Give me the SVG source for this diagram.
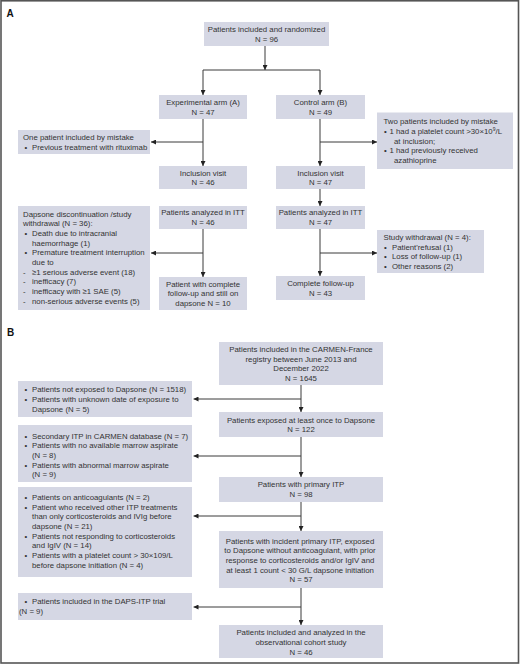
<svg xmlns="http://www.w3.org/2000/svg" width="520" height="665" viewBox="0 0 520 665">
<style>
.box{fill:#d5d7e4;stroke:none}
text{font-family:"Liberation Sans",Arial,sans-serif;font-size:7.8px;fill:#333}
.c{text-anchor:middle}
.lbl{font-size:10px;font-weight:bold;fill:#111}
.ln{fill:none;stroke:#3a3a3a;stroke-width:1}
</style>
<defs>
<marker id="ah" markerWidth="5" markerHeight="5" refX="5" refY="2.5" orient="auto" markerUnits="userSpaceOnUse">
<path d="M0,0 L5,2.5 L0,5 z" fill="#222"/>
</marker>
</defs>
<rect x="1" y="0.8" width="517.5" height="662.2" fill="#fff" stroke="#555" stroke-width="1.6"/>
<text class="lbl" x="6.5" y="17">A</text>
<text class="lbl" x="7" y="335.5">B</text>

<g id="connectors">
<path class="ln" d="M265,46 V70" marker-end="url(#ah)"/>
<path class="ln" d="M203,70 H320"/>
<path class="ln" d="M203,70 V95" marker-end="url(#ah)"/>
<path class="ln" d="M320,70 V95" marker-end="url(#ah)"/>
<path class="ln" d="M203,119 V166" marker-end="url(#ah)"/>
<path class="ln" d="M203,142 H151" marker-end="url(#ah)"/>
<path class="ln" d="M320,119 V166" marker-end="url(#ah)"/>
<path class="ln" d="M320,142 H377" marker-end="url(#ah)"/>
<path class="ln" d="M320,189 V206" marker-end="url(#ah)"/>
<path class="ln" d="M203,229 V277" marker-end="url(#ah)"/>
<path class="ln" d="M203,253 H151" marker-end="url(#ah)"/>
<path class="ln" d="M320,229 V276" marker-end="url(#ah)"/>
<path class="ln" d="M320,253 H377" marker-end="url(#ah)"/>
<path class="ln" d="M301,385 V412" marker-end="url(#ah)"/>
<path class="ln" d="M301,399 H193.5" marker-end="url(#ah)"/>
<path class="ln" d="M301,437 V477" marker-end="url(#ah)"/>
<path class="ln" d="M301,456 H193.5" marker-end="url(#ah)"/>
<path class="ln" d="M301,502 V531" marker-end="url(#ah)"/>
<path class="ln" d="M301,516 H193.5" marker-end="url(#ah)"/>
<path class="ln" d="M301,588 V625" marker-end="url(#ah)"/>
<path class="ln" d="M301,607 H193.5" marker-end="url(#ah)"/>
</g>

<g id="a-randomized">
<rect class="box" x="204" y="22" width="125" height="24"/>
<text class="c" x="266.5" y="32">Patients included and randomized</text>
<text class="c" x="266.5" y="42">N = 96</text>
</g>
<g id="a-experimental">
<rect class="box" x="159" y="95" width="88" height="24"/>
<text class="c" x="203" y="105">Experimental arm (A)</text>
<text class="c" x="203" y="114.5">N = 47</text>
</g>
<g id="a-control">
<rect class="box" x="276" y="95" width="89" height="24"/>
<text class="c" x="320.5" y="105">Control arm (B)</text>
<text class="c" x="320.5" y="114.5">N = 49</text>
</g>
<g id="a-mistake-a">
<rect class="box" x="18" y="130" width="132" height="24"/>
<text x="23" y="140">One patient included by mistake</text>
<text x="24.5" y="149.5">•</text>
<text x="32" y="149.5">Previous treatment with rituximab</text>
</g>
<g id="a-mistake-b">
<rect class="box" x="377" y="112.5" width="136" height="56.5"/>
<text x="383.5" y="124">Two patients included by mistake</text>
<text x="384" y="134">•</text>
<text x="389.5" y="134">1 had a platelet count &gt;30×10<tspan dy="-3" font-size="5">9</tspan><tspan dy="3">/L</tspan></text>
<text x="394" y="143.6">at inclusion;</text>
<text x="384" y="153.3">•</text>
<text x="389.5" y="153.3">1 had previously received</text>
<text x="394" y="163">azathioprine</text>
</g>
<g id="a-inclusion-a">
<rect class="box" x="159" y="166" width="88" height="23"/>
<text class="c" x="203" y="175.5">Inclusion visit</text>
<text class="c" x="203" y="185">N = 46</text>
</g>
<g id="a-inclusion-b">
<rect class="box" x="276" y="166" width="89" height="23"/>
<text class="c" x="320.5" y="175.5">Inclusion visit</text>
<text class="c" x="320.5" y="185">N = 47</text>
</g>
<g id="a-itt-a">
<rect class="box" x="159" y="206" width="88" height="23"/>
<text class="c" x="203" y="215">Patients analyzed in ITT</text>
<text class="c" x="203" y="224.5">N = 46</text>
</g>
<g id="a-itt-b">
<rect class="box" x="276" y="206" width="89" height="23"/>
<text class="c" x="320.5" y="215">Patients analyzed in ITT</text>
<text class="c" x="320.5" y="224.5">N = 47</text>
</g>
<g id="a-discontinuation">
<rect class="box" x="18" y="206" width="132" height="104"/>
<text x="23" y="216.7">Dapsone discontinuation /study</text>
<text x="23" y="226.3">withdrawal (N = 36):</text>
<text x="24.5" y="236">•</text>
<text x="32" y="236">Death due to intracranial</text>
<text x="32" y="245.6">haemorrhage (1)</text>
<text x="24.5" y="255.3">•</text>
<text x="32" y="255.3">Premature treatment interruption</text>
<text x="32" y="264.9">due to</text>
<text x="23" y="274.6">-</text>
<text x="32" y="274.6">≥1 serious adverse event (18)</text>
<text x="23" y="284.2">-</text>
<text x="32" y="284.2">inefficacy (7)</text>
<text x="23" y="293.9">-</text>
<text x="32" y="293.9">inefficacy with ≥1 SAE (5)</text>
<text x="23" y="303.5">-</text>
<text x="32" y="303.5">non-serious adverse events (5)</text>
</g>
<g id="a-complete-a">
<rect class="box" x="159" y="277" width="88" height="33"/>
<text class="c" x="203" y="287">Patient with complete</text>
<text class="c" x="203" y="296.3">follow-up and still on</text>
<text class="c" x="203" y="306">dapsone N = 10</text>
</g>
<g id="a-withdrawal-b">
<rect class="box" x="377" y="230" width="107" height="43"/>
<text x="383.5" y="240">Study withdrawal (N = 4):</text>
<text x="384" y="249.7">•</text>
<text x="392" y="249.7">Patient'refusal (1)</text>
<text x="384" y="259.4">•</text>
<text x="392" y="259.4">Loss of follow-up (1)</text>
<text x="384" y="269">•</text>
<text x="392" y="269">Other reasons (2)</text>
</g>
<g id="a-complete-b">
<rect class="box" x="276" y="276" width="89" height="24"/>
<text class="c" x="320.5" y="286">Complete follow-up</text>
<text class="c" x="320.5" y="296">N = 43</text>
</g>

<g id="b-carmen">
<rect class="box" x="219" y="342" width="164" height="43"/>
<text class="c" x="301" y="352">Patients included in the CARMEN-France</text>
<text class="c" x="301" y="361.7">registry between June 2013 and</text>
<text class="c" x="301" y="371.4">December 2022</text>
<text class="c" x="301" y="381">N = 1645</text>
</g>
<g id="b-exposed">
<rect class="box" x="219" y="412" width="164" height="25"/>
<text class="c" x="301" y="422.7">Patients exposed at least once to Dapsone</text>
<text class="c" x="301" y="432">N = 122</text>
</g>
<g id="b-primary">
<rect class="box" x="219" y="477" width="164" height="25"/>
<text class="c" x="301" y="487">Patients with primary ITP</text>
<text class="c" x="301" y="496.7">N = 98</text>
</g>
<g id="b-incident">
<rect class="box" x="219" y="531" width="164" height="57"/>
<text class="c" x="300" y="543.5">Patients with incident primary ITP, exposed</text>
<text class="c" x="300" y="553.2">to Dapsone without anticoagulant, with prior</text>
<text class="c" x="300" y="562.9">response to corticosteroids and/or IgIV and</text>
<text class="c" x="300" y="572.6">at least 1 count &lt; 30 G/L dapsone initiation</text>
<text class="c" x="301" y="582">N = 57</text>
</g>
<g id="b-final">
<rect class="box" x="219" y="625" width="164" height="33"/>
<text class="c" x="301" y="635.4">Patients included and analyzed in the</text>
<text class="c" x="301" y="645">observational cohort study</text>
<text class="c" x="301" y="654.7">N = 46</text>
</g>
<g id="b-excl-1">
<rect class="box" x="18" y="381" width="174" height="36"/>
<text x="24.5" y="391.5">•</text>
<text x="32" y="391.5">Patients not exposed to Dapsone (N = 1518)</text>
<text x="24.5" y="401.5">•</text>
<text x="32" y="401.5">Patients with unknown date of exposure to</text>
<text x="32" y="411.5">Dapsone (N = 5)</text>
</g>
<g id="b-excl-2">
<rect class="box" x="18" y="425" width="174" height="57"/>
<text x="24.5" y="438.7">•</text>
<text x="32" y="438.7">Secondary ITP in CARMEN database (N = 7)</text>
<text x="24.5" y="448.3">•</text>
<text x="32" y="448.3">Patients with no available marrow aspirate</text>
<text x="32" y="458">(N = 8)</text>
<text x="24.5" y="467.7">•</text>
<text x="32" y="467.7">Patients with abnormal marrow aspirate</text>
<text x="32" y="477.3">(N = 9)</text>
</g>
<g id="b-excl-3">
<rect class="box" x="18" y="487" width="174" height="90"/>
<text x="24.5" y="500">•</text>
<text x="32" y="500">Patients on anticoagulants (N = 2)</text>
<text x="24.5" y="509.7">•</text>
<text x="32" y="509.7">Patient who received other ITP treatments</text>
<text x="32" y="519.4">than only corticosteroids and IVIg before</text>
<text x="32" y="529">dapsone (N = 21)</text>
<text x="24.5" y="538.7">•</text>
<text x="32" y="538.7">Patients not responding to corticosteroids</text>
<text x="32" y="548.4">and IgIV (N = 14)</text>
<text x="24.5" y="558">•</text>
<text x="32" y="558">Patients with a platelet count &gt; 30×109/L</text>
<text x="32" y="567.7">before dapsone initiation (N = 4)</text>
</g>
<g id="b-excl-4">
<rect class="box" x="18" y="593" width="174" height="27"/>
<text x="24.5" y="604.4">•</text>
<text x="32" y="604.4">Patients included in the DAPS-ITP trial</text>
<text x="19" y="614">(N = 9)</text>
</g>
</svg>
